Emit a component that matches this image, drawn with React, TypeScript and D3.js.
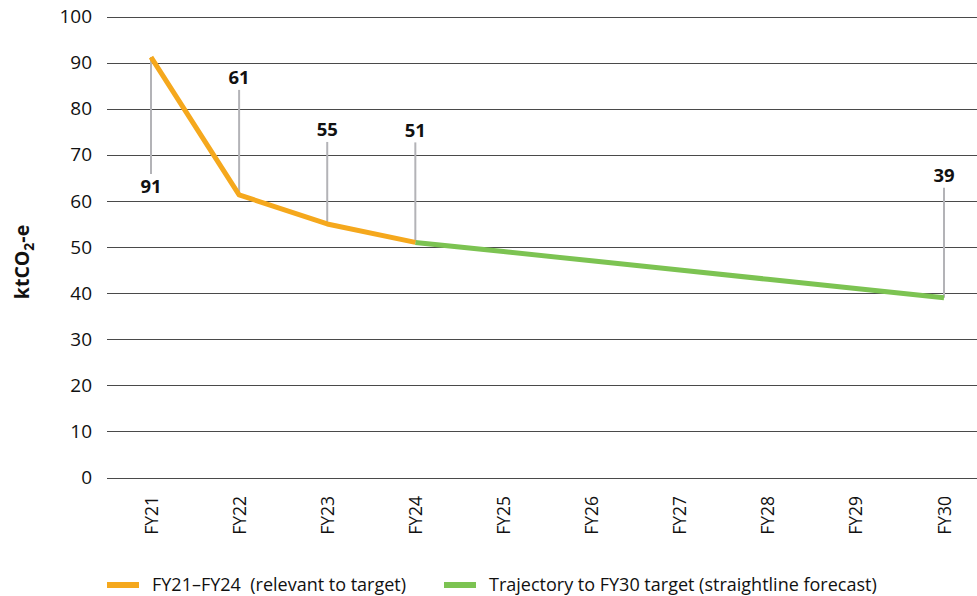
import React, { useEffect, useRef } from 'react';
import * as d3 from 'd3';

const years = ['FY21', 'FY22', 'FY23', 'FY24', 'FY25', 'FY26', 'FY27', 'FY28', 'FY29', 'FY30'];
const actualYears = ['FY21', 'FY22', 'FY23', 'FY24'];
const actualValues = [91.2, 61.3, 55, 51];
const trajectoryYears = ['FY24', 'FY25', 'FY26', 'FY27', 'FY28', 'FY29', 'FY30'];
const trajectoryValues = [51, 49, 47, 45, 43, 41, 39];
const yTicks = [0, 10, 20, 30, 40, 50, 60, 70, 80, 90, 100];

// labelled points: year, label, leader direction / length in px
const callouts = [
  { year: 'FY21', value: 91.2, label: '91', dir: 1, len: 117 },
  { year: 'FY22', value: 61.3, label: '61', dir: -1, len: 105 },
  { year: 'FY23', value: 55, label: '55', dir: -1, len: 82 },
  { year: 'FY24', value: 51, label: '51', dir: -1, len: 100 },
  { year: 'FY30', value: 39, label: '39', dir: -1, len: 110 },
];

const colors = {
  grid: '#4a4a4a',
  text: '#111111',
  leader: '#b3b3b7',
  actual: '#f5a81d',
  trajectory: '#7cc352',
};

const FONT = '"Open Sans", sans-serif';

const Chart = () => {
  const svgRef = useRef<SVGSVGElement>(null);

  useEffect(() => {
    const svgEl = svgRef.current;
    if (!svgEl) return;
    const width = 977;
    const height = 596;
    const svg = d3.select(svgEl);
    svg.selectAll('*').remove();

    const left = 107;
    const right = 977;
    const top = 16.5;
    const bottom = 477.5;

    const x = d3.scalePoint<string>().domain(years).range([151, 944]);
    const cx = (d: string) => x(d) ?? 0;
    const y = d3.scaleLinear().domain([0, 100]).range([bottom, top]);

    // gridlines
    svg
      .append('g')
      .selectAll('line')
      .data(yTicks)
      .enter()
      .append('line')
      .attr('x1', left)
      .attr('x2', right)
      .attr('y1', (d) => Math.round(y(d)) + 0.5)
      .attr('y2', (d) => Math.round(y(d)) + 0.5)
      .attr('stroke', colors.grid)
      .attr('stroke-width', 1);

    // y tick labels
    svg
      .append('g')
      .selectAll('text')
      .data(yTicks)
      .enter()
      .append('text')
      .attr('x', 92)
      .attr('y', (d) => y(d))
      .attr('dy', '0.35em')
      .attr('text-anchor', 'end')
      .attr('font-family', FONT)
      .attr('font-size', 19)
      .attr('fill', colors.text)
      .text((d) => d);

    // y axis title
    const title = svg
      .append('text')
      .attr('transform', `translate(29,262) rotate(-90)`)
      .attr('text-anchor', 'middle')
      .attr('font-family', FONT)
      .attr('font-size', 19.5)
      .attr('font-weight', 700)
      .attr('fill', colors.text);
    title.append('tspan').text('ktCO');
    title.append('tspan').attr('font-size', 14).attr('dy', 5).text('2');
    title.append('tspan').attr('dy', -5).text('-e');

    // x tick labels
    svg
      .append('g')
      .selectAll('text')
      .data(years)
      .enter()
      .append('text')
      .attr('transform', (d) => `translate(${cx(d) + 6.5},496) rotate(-90)`)
      .attr('text-anchor', 'end')
      .attr('font-family', FONT)
      .attr('font-size', 17.5)
      .attr('fill', colors.text)
      .text((d) => d);

    // leader lines
    svg
      .append('g')
      .selectAll('line')
      .data(callouts)
      .enter()
      .append('line')
      .attr('x1', (d) => cx(d.year))
      .attr('x2', (d) => cx(d.year))
      .attr('y1', (d) => y(d.value))
      .attr('y2', (d) => y(d.value) + d.dir * d.len)
      .attr('stroke', colors.leader)
      .attr('stroke-width', 2);

    const line = d3
      .line<[string, number]>()
      .x((d) => cx(d[0]))
      .y((d) => y(d[1]));

    const trajData = trajectoryYears.map((yr, i) => [yr, trajectoryValues[i]] as [string, number]);
    const actData = actualYears.map((yr, i) => [yr, actualValues[i]] as [string, number]);

    svg
      .append('path')
      .datum(trajData)
      .attr('d', line)
      .attr('fill', 'none')
      .attr('stroke', colors.trajectory)
      .attr('stroke-width', 5);

    svg
      .append('path')
      .datum(actData)
      .attr('d', line)
      .attr('fill', 'none')
      .attr('stroke', colors.actual)
      .attr('stroke-width', 5)
      .attr('stroke-linejoin', 'round');

    // value labels
    svg
      .append('g')
      .selectAll('text')
      .data(callouts)
      .enter()
      .append('text')
      .attr('x', (d) => cx(d.year))
      .attr('y', (d) => y(d.value) + d.dir * (d.len + 12))
      .attr('dy', '0.35em')
      .attr('text-anchor', 'middle')
      .attr('font-family', FONT)
      .attr('font-size', 18.5)
      .attr('font-weight', 700)
      .attr('fill', colors.text)
      .text((d) => d.label);

    // legend
    const legend = [
      { label: 'FY21\u2013FY24  (relevant to target)', color: colors.actual, x: 107 },
      { label: 'Trajectory to FY30 target (straightline forecast)', color: colors.trajectory, x: 444 },
    ];
    const lg = svg.append('g').selectAll('g').data(legend).enter().append('g');
    lg.append('rect')
      .attr('x', (d) => d.x)
      .attr('y', 582)
      .attr('width', 32)
      .attr('height', 6)
      .attr('fill', (d) => d.color);
    lg.append('text')
      .attr('x', (d) => d.x + 45)
      .attr('y', 585)
      .attr('dy', '0.35em')
      .attr('font-family', FONT)
      .attr('font-size', 18)
      .attr('fill', colors.text)
      .style('white-space', 'pre')
      .text((d) => d.label);

    svg.attr('width', width).attr('height', height);
  }, []);

  return <svg ref={svgRef} width={977} height={596} style={{ display: 'block' }} />;
};

export default function App() {
  return (
    <div style={{ position: 'absolute', left: 0, top: 0 }}>
      <Chart />
    </div>
  );
}
